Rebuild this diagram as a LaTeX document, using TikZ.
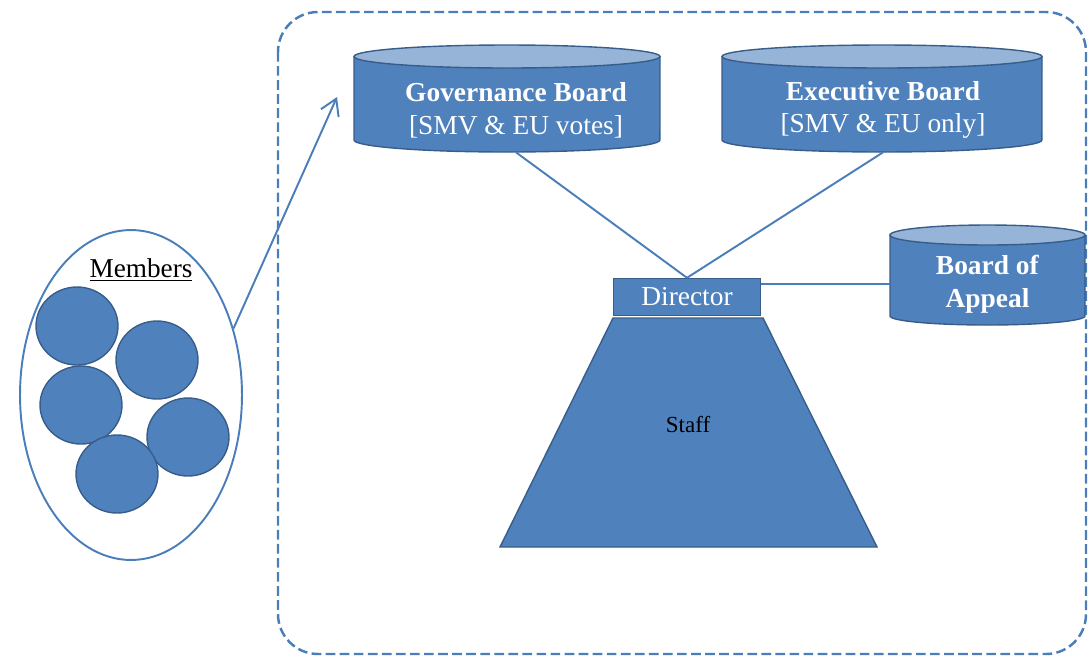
\documentclass[tikz,border=0pt]{standalone}
\usepackage{fontspec}
\setmainfont{Liberation Serif}
\usetikzlibrary{arrows.meta,shapes.geometric}

\definecolor{boxblue}{RGB}{79,129,189}
\definecolor{bordblue}{RGB}{56,93,138}
\definecolor{topblue}{RGB}{150,180,216}
\definecolor{lineblue}{RGB}{74,126,187}

\begin{document}
\begin{tikzpicture}[x=0.02cm,y=-0.02cm,>={Straight Barb[length=9pt,width=11pt]}]
		\tikzstyle{drum}=[draw=bordblue, thick, fill=boxblue]
		\tikzstyle{drumtop}=[draw=bordblue, thick, fill=topblue]
		\tikzstyle{boardtext}=[text=white, align=center, minimum height=1.68cm, font=\fontsize{15.6}{18.7}\selectfont]
		\tikzstyle{member}=[ellipse, draw=bordblue, thick, fill=boxblue, minimum width=1.64cm, minimum height=1.56cm]
		\tikzstyle{link}=[draw=lineblue, line width=1.1pt]

		\useasboundingbox (0,0) rectangle (1089,657);

		% the organisation
		\draw[lineblue, line width=1.4pt, dash pattern=on 5.5pt off 2.5pt, rounded corners=0.8cm] (278,12) rectangle (1086,654);

		\draw[drum] (354,56.5) -- (354,140) arc[start angle=180, end angle=360, x radius=3.06cm, y radius=0.24cm] -- (660,56.5) -- cycle;
		\draw[drumtop] (507,56.5) ellipse[x radius=3.06cm, y radius=0.23cm];
		\node [boardtext] (gov) at (516,110) {\textbf{Governance Board}\\{}[SMV \& EU votes]};

		\draw[drum] (722,56.5) -- (722,140) arc[start angle=180, end angle=360, x radius=3.2cm, y radius=0.24cm] -- (1042,56.5) -- cycle;
		\draw[drumtop] (882,56.5) ellipse[x radius=3.2cm, y radius=0.23cm];
		\node [boardtext] (exec) at (883,110) {\textbf{Executive Board}\\{}[SMV \& EU only]};

		\draw[drum] (890,235) -- (890,316) arc[start angle=180, end angle=360, x radius=1.95cm, y radius=0.18cm] -- (1085,235) -- cycle;
		\draw[drumtop] (987.5,235) ellipse[x radius=1.95cm, y radius=0.2cm];
		\node [boardtext, minimum height=0pt, minimum width=3.9cm] (appeal) at (987.5,284) {\textbf{Board of}\\\textbf{Appeal}};

		\node [rectangle, draw=bordblue, thick, fill=boxblue, text=white, minimum width=2.94cm, minimum height=0.74cm, font=\fontsize{15.6}{18.7}\selectfont] (dir) at (687,297) {Director};

		\coordinate (st1) at (613,318);
		\coordinate (st2) at (763,318);
		\coordinate (st3) at (877,547);
		\coordinate (st4) at (500,547);
		\draw[draw=bordblue, thick, fill=boxblue] (st1) -- (st2) -- (st3) -- (st4) -- cycle;
		\node [font=\fontsize{13.1}{15}\selectfont] (staff) at (688,424) {Staff};

		\draw[link] (gov.south) -- (dir.north);
		\draw[link] (exec.south) -- (dir.north);
		\draw[link] (appeal.west -| dir.east) -- (appeal.west);

		% the members
		\node [ellipse, draw=lineblue, line width=1.1pt, minimum width=4.44cm, minimum height=6.6cm] (members) at (131,395) {};
		\node [font=\fontsize{15.5}{18}\selectfont] (memtitle) at (141,270) {\underline{Members}};
		\node [member] (m1) at (77,326) {};
		\node [member] (m2) at (157,360) {};
		\node [member] (m3) at (81,405) {};
		\node [member] (m4) at (188,437) {};
		\node [member] (m5) at (117,474) {};

		\coordinate (tip) at (337,97);
		\draw[link,->] (members.33) -- (tip);
	\end{tikzpicture}
\end{document}
